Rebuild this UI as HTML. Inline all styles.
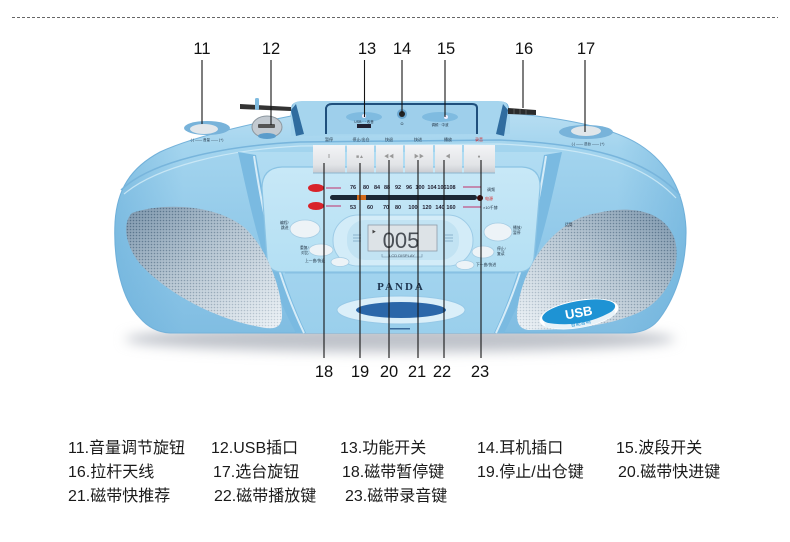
<!DOCTYPE html>
<html><head><meta charset="utf-8">
<style>
html,body{margin:0;padding:0;background:#fff;}
#c{position:relative;width:790px;height:542px;overflow:hidden;background:#fff;font-family:"Liberation Sans","Noto Sans CJK SC",sans-serif;}
svg{position:absolute;left:0;top:0;}
.lg{position:absolute;font-size:16px;line-height:20px;color:#1a1a1a;white-space:nowrap;}
</style></head><body><div id="c">
<svg width="790" height="542" viewBox="0 0 790 542" xmlns="http://www.w3.org/2000/svg">
<defs>
  <linearGradient id="gBody" x1="0" y1="0" x2="0" y2="1">
    <stop offset="0" stop-color="#bde0f3"/>
    <stop offset="0.2" stop-color="#a3d4ee"/>
    <stop offset="0.6" stop-color="#91c9e9"/>
    <stop offset="1" stop-color="#80bde2"/>
  </linearGradient>
  <linearGradient id="gEnds" x1="0" y1="0" x2="1" y2="0">
    <stop offset="0" stop-color="#5fa8d6" stop-opacity="0.45"/>
    <stop offset="0.12" stop-color="#5fa8d6" stop-opacity="0"/>
    <stop offset="0.88" stop-color="#5fa8d6" stop-opacity="0"/>
    <stop offset="1" stop-color="#5fa8d6" stop-opacity="0.45"/>
  </linearGradient>
  <linearGradient id="gFace" x1="0" y1="0" x2="0" y2="1">
    <stop offset="0" stop-color="#b1dcf2"/>
    <stop offset="1" stop-color="#9acfec"/>
  </linearGradient>
  <linearGradient id="gPanel" x1="0" y1="0" x2="0" y2="1">
    <stop offset="0" stop-color="#c8e8f7"/>
    <stop offset="1" stop-color="#b3dff3"/>
  </linearGradient>
  <linearGradient id="gGrL" x1="0" y1="0" x2="1" y2="1">
    <stop offset="0" stop-color="#7f98ae"/>
    <stop offset="0.45" stop-color="#b9c8d4"/>
    <stop offset="1" stop-color="#eef3f7"/>
  </linearGradient>
  <linearGradient id="gGrR" x1="1" y1="0" x2="0" y2="1">
    <stop offset="0" stop-color="#7f98ae"/>
    <stop offset="0.45" stop-color="#b9c8d4"/>
    <stop offset="1" stop-color="#eef3f7"/>
  </linearGradient>
  <linearGradient id="gBtn" x1="0" y1="0" x2="0" y2="1">
    <stop offset="0" stop-color="#f3f4f6"/>
    <stop offset="0.7" stop-color="#e2e4e7"/>
    <stop offset="1" stop-color="#c9ccd1"/>
  </linearGradient>
  <pattern id="dots" width="3" height="3" patternUnits="userSpaceOnUse">
    <circle cx="1.5" cy="1.5" r="0.8" fill="#24435f"/>
  </pattern>
  <linearGradient id="gMaskL" x1="0" y1="0" x2="1" y2="1">
    <stop offset="0" stop-color="#fff"/>
    <stop offset="1" stop-color="#444"/>
  </linearGradient>
  <linearGradient id="gMaskR" x1="1" y1="0" x2="0" y2="1">
    <stop offset="0" stop-color="#fff"/>
    <stop offset="1" stop-color="#444"/>
  </linearGradient>
  <mask id="mL"><rect x="115" y="200" width="175" height="135" fill="url(#gMaskL)"/></mask>
  <mask id="mR"><rect x="510" y="200" width="175" height="135" fill="url(#gMaskR)"/></mask>
  <filter id="blur6" x="-20%" y="-200%" width="140%" height="500%"><feGaussianBlur stdDeviation="6"/></filter>
</defs>

<!-- dashed separator -->
<line x1="12" y1="17.5" x2="778" y2="17.5" stroke="#666" stroke-width="1" stroke-dasharray="3,2"/>

<!-- floor shadow -->
<ellipse cx="400" cy="339" rx="275" ry="13" fill="#bfc3ca" filter="url(#blur6)"/>

<!-- body -->
<path d="M 140,318 C 122,300 113,262 115,222 C 117,190 130,168 160,152 C 190,138 240,126 291,116 L 292,106 Q 294,102 300,102 L 500,102 Q 507,102 508,106 L 510,113 C 560,118 610,126 640,145 C 668,163 684,192 686,228 C 687,262 677,295 660,318 Q 650,332 630,333 L 170,333 Q 152,332 140,318 Z" fill="url(#gBody)" stroke="#74b2da" stroke-width="1"/>
<path d="M 140,318 C 122,300 113,262 115,222 C 117,190 130,168 160,152 C 190,138 240,126 291,116 L 292,106 Q 294,102 300,102 L 500,102 Q 507,102 508,106 L 510,113 C 560,118 610,126 640,145 C 668,163 684,192 686,228 C 687,262 677,295 660,318 Q 650,332 630,333 L 170,333 Q 152,332 140,318 Z" fill="url(#gEnds)"/>
<!-- top/front edge highlight -->
<path d="M 121,190 C 150,162 220,146 300,142 L 500,140 C 590,144 645,158 680,195" fill="none" stroke="#78b5dc" stroke-width="1.5"/>
<path d="M 124,194 C 155,168 222,150 300,146 L 500,144 C 588,148 642,162 676,198" fill="none" stroke="#d3ecf8" stroke-width="1.2" opacity="0.8"/>

<!-- center face -->
<path d="M 240,152 C 252,205 262,270 298,333 L 502,333 C 538,270 548,205 560,152 Z" fill="url(#gFace)"/>
<!-- left bezel -->
<path d="M 238,152 C 250,205 262,270 296,333 L 306,333 C 276,270 266,210 256,155 Z" fill="#7abae1"/>
<path d="M 254,156 C 262,210 274,270 304,333" fill="none" stroke="#e6f5fc" stroke-width="2" opacity="0.85"/>
<!-- right bezel -->
<path d="M 562,152 C 550,205 538,270 504,333 L 494,333 C 524,270 534,210 544,155 Z" fill="#7abae1"/>
<path d="M 546,156 C 538,210 526,270 496,333" fill="none" stroke="#e6f5fc" stroke-width="2" opacity="0.85"/>

<!-- inner panel -->
<path d="M 262,188 Q 262,168 282,167 L 522,167 Q 541,168 540,188 L 534,258 Q 532,272 518,272 L 282,272 Q 268,272 267,258 Z" fill="url(#gPanel)" stroke="#8ac3e4" stroke-width="1.2"/>
<line x1="285" y1="273" x2="515" y2="273" stroke="#86bfe2" stroke-width="1"/>

<!-- left speaker -->
<path d="M 132,213 C 160,203 215,203 245,228 C 268,250 282,290 282,315 C 282,330 272,330 255,326 C 215,318 170,295 143,267 C 128,252 120,225 132,213 Z" fill="url(#gGrL)"/>
<path d="M 132,213 C 160,203 215,203 245,228 C 268,250 282,290 282,315 C 282,330 272,330 255,326 C 215,318 170,295 143,267 C 128,252 120,225 132,213 Z" fill="url(#dots)" opacity="0.55" mask="url(#mL)"/>
<!-- right speaker -->
<path d="M 597,213 C 630,205 665,210 675,240 C 682,270 665,300 640,312 C 610,326 570,330 530,330 C 518,330 515,320 518,305 C 522,280 535,250 560,230 C 572,220 585,215 597,213 Z" fill="url(#gGrR)"/>
<path d="M 597,213 C 630,205 665,210 675,240 C 682,270 665,300 640,312 C 610,326 570,330 530,330 C 518,330 515,320 518,305 C 522,280 535,250 560,230 C 572,220 585,215 597,213 Z" fill="url(#dots)" opacity="0.55" mask="url(#mR)"/>

<!-- USB badge -->
<g transform="rotate(-10 579 314)">
  <ellipse cx="579" cy="314" rx="40" ry="14" fill="#ffffff"/>
  <ellipse cx="579" cy="312" rx="37" ry="11" fill="#1e93d4"/>
  <path d="M 543,316 Q 579,330 615,316 L 614,321 Q 579,334 544,321 Z" fill="#e8f2f8"/>
  <text x="579" y="317" text-anchor="middle" font-family="Liberation Sans, sans-serif" font-weight="bold" font-size="13" fill="#fff">USB</text>
  <text x="579" y="325" text-anchor="middle" font-family="Liberation Sans, Noto Sans CJK SC, sans-serif" font-size="5" fill="#1e93d4">智能音响</text>
</g>

<!-- top handle block -->
<path d="M 291,116 L 293,105 Q 295,101 302,101 L 498,101 Q 506,101 507,105 L 510,116 L 510,134 L 291,136 Z" fill="#a6d5ee"/>
<path d="M 291,110 L 296,104 L 304,134 L 296,136 Z" fill="#2f6c9f"/>
<path d="M 508,110 L 503,104 L 496,134 L 504,136 Z" fill="#2f6c9f"/>
<path d="M 326,134 L 326,108 Q 327,104 332,104 L 472,104 Q 477,104 477,108 L 477,134" fill="#9ecfeb" stroke="#1f4f7c" stroke-width="2"/>
<ellipse cx="364" cy="117" rx="18" ry="5" fill="#7fbbe0"/>
<circle cx="364" cy="116" r="2" fill="#eef"/>
<circle cx="402" cy="114" r="5" fill="#6aa6cf"/>
<circle cx="402" cy="114" r="3" fill="#222"/>
<ellipse cx="440" cy="117" rx="18" ry="5" fill="#7fbbe0"/>
<circle cx="446" cy="117" r="2" fill="#eef"/>
<rect x="357" y="124" width="14" height="4" fill="#223"/>
<text x="364" y="123" text-anchor="middle" font-size="3.5" fill="#234">USB · · 收音</text>
<text x="402" y="125" text-anchor="middle" font-size="4" fill="#234">Ω</text>
<text x="440" y="126" text-anchor="middle" font-size="3.5" fill="#234">调频 · 中波</text>

<!-- left top: antenna stub, volume, USB -->
<path d="M 240,104 L 291,107 L 291,111 L 240,109 Z" fill="#333"/>
<rect x="255" y="98" width="4" height="12" rx="1.5" fill="#7fbbe0"/>
<ellipse cx="207" cy="128" rx="23" ry="7" fill="#78b3da"/>
<ellipse cx="204" cy="129" rx="14" ry="5" fill="#e2e7eb"/>
<text x="207" y="141" text-anchor="middle" font-size="3.5" fill="#234">(-) —— 音量 —— (+)</text>
<ellipse cx="267" cy="127" rx="15" ry="11" fill="#c3cad1" stroke="#8c979f" stroke-width="1"/>
<rect x="258" y="124" width="17" height="4" rx="1" fill="#555"/>
<ellipse cx="267" cy="136" rx="9" ry="3" fill="#5b9ccb"/>

<!-- right top: antenna, tuning knob -->
<path d="M 508,108 L 536,110 L 536,115 L 508,114 Z" fill="#2b2b2b"/>
<line x1="514" y1="109" x2="514" y2="114" stroke="#777" stroke-width="0.6"/>
<line x1="520" y1="109" x2="520" y2="114" stroke="#777" stroke-width="0.6"/>
<line x1="526" y1="110" x2="526" y2="115" stroke="#777" stroke-width="0.6"/>
<ellipse cx="586" cy="132" rx="27" ry="7" fill="#78b3da"/>
<ellipse cx="586" cy="131" rx="15" ry="5" fill="#e0e6ea"/>
<text x="588" y="145" text-anchor="middle" font-size="3.5" fill="#234">(-) —— 选台 —— (+)</text>

<!-- cassette keys -->
<g font-size="4" fill="#234" text-anchor="middle">
  <text x="329" y="141">暂停</text><text x="361" y="141">停止/出仓</text><text x="389" y="141">快退</text>
  <text x="418" y="141">快进</text><text x="448" y="141">播放</text><text x="479" y="141" fill="#d22">录音</text>
</g>
<g>
  <rect x="313" y="145" width="32" height="28" fill="url(#gBtn)"/>
  <rect x="347" y="145" width="27" height="28" fill="url(#gBtn)"/>
  <rect x="376" y="145" width="27" height="28" fill="url(#gBtn)"/>
  <rect x="405" y="145" width="28" height="28" fill="url(#gBtn)"/>
  <rect x="435" y="145" width="27" height="28" fill="url(#gBtn)"/>
  <rect x="464" y="145" width="31" height="28" fill="url(#gBtn)"/>
  <line x1="313" y1="173" x2="495" y2="173" stroke="#8cb6cf" stroke-width="1"/>
  <g font-size="5" fill="#999" text-anchor="middle">
    <text x="329" y="158">II</text><text x="360" y="158">■▲</text><text x="389" y="158">◀◀</text>
    <text x="419" y="158">▶▶</text><text x="448" y="158">◀</text><text x="479" y="158">●</text>
  </g>
</g>

<!-- tuning scale -->
<ellipse cx="316" cy="188" rx="8" ry="4" fill="#d8232a"/>
<ellipse cx="316" cy="206" rx="8" ry="4" fill="#d8232a"/>
<line x1="326" y1="188" x2="341" y2="188" stroke="#c0306a" stroke-width="1"/>
<line x1="326" y1="206" x2="341" y2="206" stroke="#c0306a" stroke-width="1"/>
<g font-size="5.5" fill="#223" text-anchor="middle" font-weight="bold">
  <text x="353" y="189">76</text><text x="366" y="189">80</text><text x="377" y="189">84</text><text x="387" y="189">88</text>
  <text x="398" y="189">92</text><text x="409" y="189">96</text><text x="420" y="189">100</text><text x="432" y="189">104</text>
  <text x="442" y="189">106</text><text x="451" y="189">108</text>
  <text x="353" y="209">53</text><text x="370" y="209">60</text><text x="386" y="209">70</text><text x="398" y="209">80</text>
  <text x="413" y="209">100</text><text x="427" y="209">120</text><text x="440" y="209">140</text><text x="451" y="209">160</text>
</g>
<rect x="330" y="195" width="147" height="5" rx="2.5" fill="#1c2836"/>
<rect x="357" y="195" width="9" height="5" fill="#d26a1a"/>
<line x1="463" y1="187" x2="481" y2="187" stroke="#c0306a" stroke-width="1"/>
<line x1="463" y1="207" x2="481" y2="207" stroke="#c0306a" stroke-width="1"/>
<circle cx="480" cy="198" r="3" fill="#3a0a0a"/>
<text x="487" y="191" font-size="4" fill="#234">调频</text>
<text x="485" y="200" font-size="4" fill="#d22">电源</text>
<text x="483" y="209" font-size="4" fill="#234">×10千赫</text>

<!-- LCD area -->
<rect x="333" y="215" width="140" height="51" rx="25" fill="#d3ecf8" stroke="#9dcbe6" stroke-width="1"/>
<rect x="347" y="220" width="112" height="40" rx="18" fill="#c2e3f3"/>
<rect x="368" y="225" width="69" height="26" fill="#dde3e7" stroke="#8e9ca8" stroke-width="0.8"/>
<text x="401" y="248" text-anchor="middle" font-size="22" fill="#4a5057" font-family="Liberation Sans, sans-serif">005</text>
<text x="372" y="233" font-size="4" fill="#444">▶</text>
<path d="M 382,254 L 382,257 L 422,257 L 422,254" fill="none" stroke="#6a8aa0" stroke-width="0.6"/>
<text x="402" y="257" text-anchor="middle" font-size="4" fill="#456">LCD DISPLAY</text>
<g stroke="#7aa8c4" stroke-width="0.8">
  <line x1="353" y1="235" x2="361" y2="235"/><line x1="353" y1="238" x2="361" y2="238"/><line x1="353" y1="241" x2="361" y2="241"/>
  <line x1="445" y1="235" x2="453" y2="235"/><line x1="445" y1="238" x2="453" y2="238"/><line x1="445" y1="241" x2="453" y2="241"/>
</g>

<!-- side buttons -->
<ellipse cx="305" cy="229" rx="15" ry="9" fill="#edf3f7" stroke="#a6cde4" stroke-width="0.8"/>
<ellipse cx="321" cy="250" rx="12" ry="6" fill="#edf3f7" stroke="#a6cde4" stroke-width="0.8"/>
<ellipse cx="340" cy="262" rx="9" ry="4.5" fill="#edf3f7" stroke="#a6cde4" stroke-width="0.8"/>
<ellipse cx="498" cy="232" rx="14" ry="9" fill="#edf3f7" stroke="#a6cde4" stroke-width="0.8"/>
<ellipse cx="483" cy="252" rx="11" ry="6" fill="#edf3f7" stroke="#a6cde4" stroke-width="0.8"/>
<ellipse cx="465" cy="265" rx="9" ry="4.5" fill="#edf3f7" stroke="#a6cde4" stroke-width="0.8"/>
<g font-size="3.8" fill="#234">
  <text x="280" y="224">编程/</text><text x="281" y="229">跳进</text>
  <text x="300" y="249">重复/</text><text x="301" y="254">对比</text>
  <text x="305" y="262">上一曲/快退</text>
  <text x="513" y="229">播放/</text><text x="513" y="234">暂停</text>
  <text x="497" y="250">停止/</text><text x="497" y="255">复读</text>
  <text x="476" y="266">下一曲/快进</text>
  <text x="565" y="226">话筒</text>
</g>

<!-- PANDA + cassette window -->
<text x="401" y="290" text-anchor="middle" font-family="Liberation Serif, serif" font-weight="bold" font-size="11" letter-spacing="2" fill="#1e3550">PANDA</text>
<ellipse cx="401" cy="310" rx="64" ry="14" fill="#dbeff9" stroke="#97c9e7" stroke-width="1"/>
<ellipse cx="401" cy="310" rx="45" ry="8" fill="#2b67a9"/>
<rect x="390" y="328" width="20" height="1.5" fill="#3a6a99"/>

<!-- leader lines -->
<g stroke="#151515" stroke-width="1.1">
  <line x1="202" y1="60" x2="202" y2="124"/>
  <line x1="271" y1="60" x2="271" y2="125"/>
  <line x1="364.5" y1="60" x2="364.5" y2="117"/>
  <line x1="402" y1="60" x2="402" y2="113"/>
  <line x1="445" y1="60" x2="445" y2="117"/>
  <line x1="523" y1="60" x2="523" y2="108"/>
  <line x1="585" y1="60" x2="585" y2="132"/>
  <line x1="324" y1="163" x2="324" y2="358"/>
  <line x1="360" y1="163" x2="360" y2="358"/>
  <line x1="389" y1="160" x2="389" y2="358"/>
  <line x1="418" y1="160" x2="418" y2="358"/>
  <line x1="444" y1="160" x2="444" y2="358"/>
  <line x1="481" y1="160" x2="481" y2="358"/>
</g>
<g font-family="Liberation Sans, sans-serif" font-size="16.5" fill="#111" text-anchor="middle">
  <text x="202" y="54">11</text>
  <text x="271" y="54">12</text>
  <text x="367" y="54">13</text>
  <text x="402" y="54">14</text>
  <text x="446" y="54">15</text>
  <text x="524" y="54">16</text>
  <text x="586" y="54">17</text>
  <text x="324" y="377">18</text>
  <text x="360" y="377">19</text>
  <text x="389" y="377">20</text>
  <text x="417" y="377">21</text>
  <text x="442" y="377">22</text>
  <text x="480" y="377">23</text>
</g>
</svg>

<div class="lg" style="left:68px;top:439px;">11.音量调节旋钮</div>
<div class="lg" style="left:211px;top:439px;">12.USB插口</div>
<div class="lg" style="left:340px;top:439px;">13.功能开关</div>
<div class="lg" style="left:477px;top:439px;">14.耳机插口</div>
<div class="lg" style="left:616px;top:439px;">15.波段开关</div>

<div class="lg" style="left:68px;top:463px;">16.拉杆天线</div>
<div class="lg" style="left:213px;top:463px;">17.选台旋钮</div>
<div class="lg" style="left:342px;top:463px;">18.磁带暂停键</div>
<div class="lg" style="left:477px;top:463px;">19.停止/出仓键</div>
<div class="lg" style="left:618px;top:463px;">20.磁带快进键</div>

<div class="lg" style="left:68px;top:487px;">21.磁带快推荐</div>
<div class="lg" style="left:214px;top:487px;">22.磁带播放键</div>
<div class="lg" style="left:345px;top:487px;">23.磁带录音键</div>
</div></body></html>
